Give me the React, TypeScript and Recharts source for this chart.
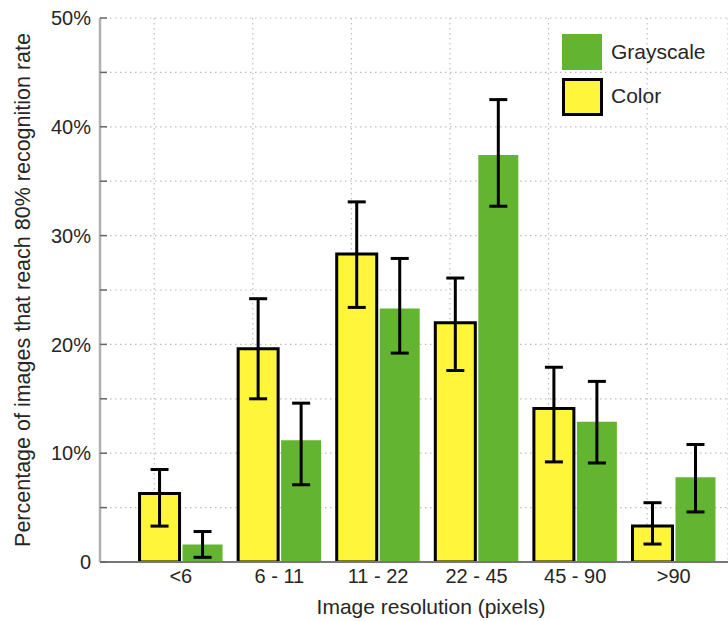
import React from 'react';
import {
    BarChart, Bar, XAxis, YAxis, CartesianGrid, Legend, ErrorBar
} from 'recharts';

const CATEGORIES = ['<6', '6 - 11', '11 - 22', '22 - 45', '45 - 90', '>90'];

// Color images (yellow bars)
const COLOR_VALUES = [6.3, 19.6, 28.3, 22.0, 14.1, 3.3];
const COLOR_LOW = [3.3, 15.0, 23.4, 17.6, 9.2, 1.65];
const COLOR_HIGH = [8.5, 24.2, 33.1, 26.1, 17.9, 5.45];

// Grayscale images (green bars)
const GRAY_VALUES = [1.6, 11.2, 23.3, 37.4, 12.9, 7.8];
const GRAY_LOW = [0.43, 7.1, 19.2, 32.7, 9.1, 4.6];
const GRAY_HIGH = [2.8, 14.6, 27.9, 42.5, 16.6, 10.8];

const Y_TICKS = [0, 5, 10, 15, 20, 25, 30, 35, 40, 45, 50];

const YELLOW = '#fff53a';
const GREEN = '#63b531';
const TEXT = '#262626';
const FONT = '"Liberation Sans", Arial, Helvetica, sans-serif';

const X_DOMAIN: [number, number] = [0.18, 6.55];
const GRID_SHIFT = 0.27; // vertical grid sits a bit left of each group

const data = CATEGORIES.map((name, i) => ({
    name,
    pos: i + 1,
    color: COLOR_VALUES[i],
    colorErr: [COLOR_VALUES[i] - COLOR_LOW[i], COLOR_HIGH[i] - COLOR_VALUES[i]],
    gray: GRAY_VALUES[i],
    grayErr: [GRAY_VALUES[i] - GRAY_LOW[i], GRAY_HIGH[i] - GRAY_VALUES[i]],
}));

const gridTicks = CATEGORIES.map((_, i) => i + 1 - GRID_SHIFT);

const YTick = (props: any) => {
    const { x, y, payload } = props;
    const v = payload.value;
    const label = v % 10 !== 0 ? '' : v === 0 ? '0' : `${v}%`;
    return (
        <g>
            <line x1={x} x2={x + 7} y1={y} y2={y} stroke="#666" strokeWidth={1.5} />
            {label && (
                <text x={x - 9} y={y} dy="0.36em" textAnchor="end" fontSize={20} fill={TEXT} fontFamily={FONT}>
                    {label}
                </text>
            )}
        </g>
    );
};

const XTick = (props: any) => {
    const { x, y, payload } = props;
    return (
        <text x={x} y={y} dy="0.72em" textAnchor="middle" fontSize={20} fill={TEXT} fontFamily={FONT}>
            {CATEGORIES[payload.value - 1]}
        </text>
    );
};

const YLabel = (props: any) => {
    const vb = props.viewBox || { x: 0, y: 18, width: 100, height: 544 };
    const cx = vb.x + 30;
    const cy = vb.y + vb.height / 2;
    return (
        <text x={cx} y={cy} transform={`rotate(-90, ${cx}, ${cy})`} textAnchor="middle"
            fontSize={21.5} fill={TEXT} fontFamily={FONT}>
            Percentage of images that reach 80% recognition rate
        </text>
    );
};

const renderLegend = () => (
    <div style={{ fontFamily: FONT, fontSize: 21, color: TEXT, position: 'relative', width: 150, height: 84 }}>
        <div style={{ position: 'absolute', left: 0, top: 0, width: 40, height: 36, background: GREEN }} />
        <div style={{ position: 'absolute', left: 49, top: 5, lineHeight: '26px' }}>Grayscale</div>
        <div style={{
            position: 'absolute', left: 0, top: 44, width: 35, height: 32,
            background: YELLOW, border: '3px solid #000'
        }} />
        <div style={{ position: 'absolute', left: 49, top: 49, lineHeight: '26px' }}>Color</div>
    </div>
);

export default function App() {
    return (
        <div style={{ position: 'absolute', left: 0, top: 0, width: 728, height: 621, background: '#fff' }}>
            <BarChart
                width={728}
                height={621}
                data={data}
                margin={{ top: 18, right: 0, bottom: 0, left: 0 }}
                barSize={40}
                barGap={3}
            >
                <CartesianGrid
                    xAxisId="grid"
                    stroke="#bdbdbd"
                    strokeWidth={1.2}
                    strokeDasharray="1.5 3.5"
                />
                <XAxis
                    xAxisId="grid"
                    type="number"
                    dataKey="pos"
                    domain={X_DOMAIN}
                    ticks={gridTicks}
                    allowDataOverflow
                    hide
                />
                <XAxis
                    type="number"
                    dataKey="pos"
                    domain={X_DOMAIN}
                    ticks={data.map((d) => d.pos)}
                    allowDataOverflow
                    height={59}
                    stroke="#777"
                    strokeWidth={2}
                    tickLine={false}
                    tickSize={0}
                    tickMargin={7}
                    tick={<XTick />}
                    label={{
                        value: 'Image resolution (pixels)',
                        position: 'insideBottom',
                        offset: 7,
                        dx: 17,
                        fontSize: 21,
                        fill: TEXT,
                        fontFamily: FONT,
                    }}
                />
                <YAxis
                    domain={[0, 50]}
                    ticks={Y_TICKS}
                    allowDataOverflow
                    width={100}
                    stroke="#b0b0b0"
                    strokeWidth={2.5}
                    tickLine={false}
                    tickSize={0}
                    tickMargin={0}
                    tick={<YTick />}
                    label={{ content: <YLabel /> }}
                />
                <Legend
                    layout="horizontal"
                    verticalAlign="middle"
                    align="center"
                    content={renderLegend}
                    wrapperStyle={{ top: 34, left: 562, width: 150, height: 84 }}
                />
                <Bar dataKey="color" name="Color" fill={YELLOW} stroke="#000" strokeWidth={3} isAnimationActive={false}>
                    <ErrorBar dataKey="colorErr" direction="y" width={9} stroke="#000" strokeWidth={3} />
                </Bar>
                <Bar dataKey="gray" name="Grayscale" fill={GREEN} isAnimationActive={false}>
                    <ErrorBar dataKey="grayErr" direction="y" width={9} stroke="#000" strokeWidth={3} />
                </Bar>
            </BarChart>
        </div>
    );
}
